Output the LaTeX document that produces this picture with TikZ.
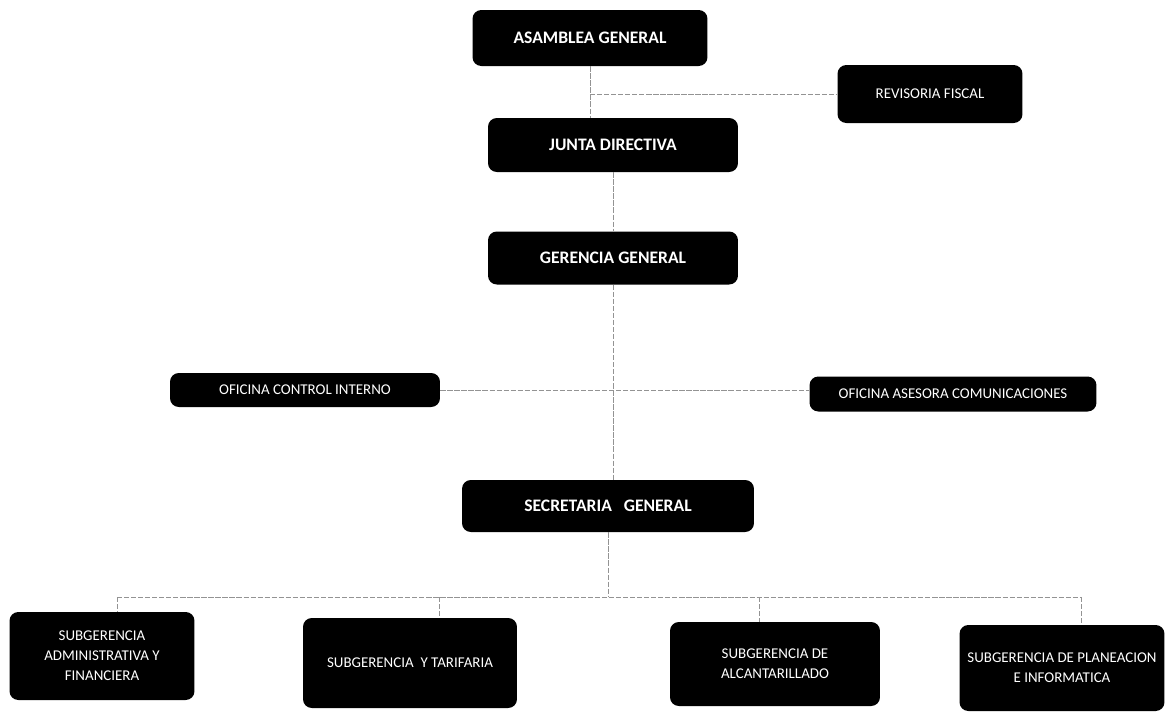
\documentclass[tikz,border=0pt]{standalone}
\usepackage{fontspec}
\setmainfont{Carlito}
\usepackage{tikz}

\begin{document}
\begin{tikzpicture}[x=0.02cm, y=-0.02cm,
	box/.style={fill=black, text=white, rounded corners=5pt, align=center, inner sep=2pt},
	big/.style={box, font=\fontsize{10}{12}\selectfont\bfseries},
	small/.style={box, font=\fontsize{8.5}{11.3}\selectfont},
	link/.style={gray!85, line width=0.5pt, dash pattern=on 3pt off 1pt}]
	\useasboundingbox (0,0) rectangle (1172,711);
	
	\node [big, minimum width=4.7cm, minimum height=1.12cm] (asamblea) at (590,38) {ASAMBLEA GENERAL};
	\node [small, minimum width=3.7cm, minimum height=1.16cm] (revisoria) at (930,94) {REVISORIA FISCAL};
	\node [big, minimum width=5cm, minimum height=1.08cm] (junta) at (613,145) {JUNTA DIRECTIVA};
	\node [big, minimum width=5cm, minimum height=1.06cm] (gerencia) at (613,258) {GERENCIA GENERAL};
	
	\node [small, minimum width=5.4cm, minimum height=0.68cm] (control) at (305,390) {OFICINA CONTROL INTERNO};
	\node [small, minimum width=5.74cm, minimum height=0.7cm] (asesora) at (953,394) {OFICINA ASESORA COMUNICACIONES};
	
	\node [big, minimum width=5.84cm, minimum height=1.04cm] (secretaria) at (608,506) {SECRETARIA\ \ \ GENERAL};
	
	\node [small, minimum width=3.7cm, minimum height=1.76cm] (sub1) at (102,656) {SUBGERENCIA\\ADMINISTRATIVA Y\\FINANCIERA};
	\node [small, minimum width=4.28cm, minimum height=1.8cm] (sub2) at (410,663) {SUBGERENCIA\ \ Y TARIFARIA};
	\node [small, minimum width=4.2cm, minimum height=1.68cm] (sub3) at (775,664) {SUBGERENCIA DE\\ALCANTARILLADO};
	\node [small, minimum width=4.1cm, minimum height=1.72cm] (sub4) at (1062,668) {SUBGERENCIA DE PLANEACION\\E INFORMATICA};
	
	\draw [link] (asamblea.south) -- (asamblea.south |- junta.north);
	\draw [link] (asamblea.south |- revisoria.west) -- (revisoria.west);
	\draw [link] (junta.south) -- (gerencia.north);
	\draw [link] (gerencia.south) -- (gerencia.south |- secretaria.north);
	\draw [link] (control.east) -- (control.east -| asesora.west);
	
	\coordinate (bus) at (608,597);
	\coordinate (d1) at (117,597);
	\coordinate (d2) at (439,597);
	\coordinate (d3) at (759,597);
	\coordinate (d4) at (1081,597);
	\draw [link] (secretaria.south) -- (bus);
	\draw [link] (d1) -- (d4);
	\draw [link] (d1) -- (d1 |- sub1.north);
	\draw [link] (d2) -- (d2 |- sub2.north);
	\draw [link] (d3) -- (d3 |- sub3.north);
	\draw [link] (d4) -- (d4 |- sub4.north);
	
\end{tikzpicture}
\end{document}
